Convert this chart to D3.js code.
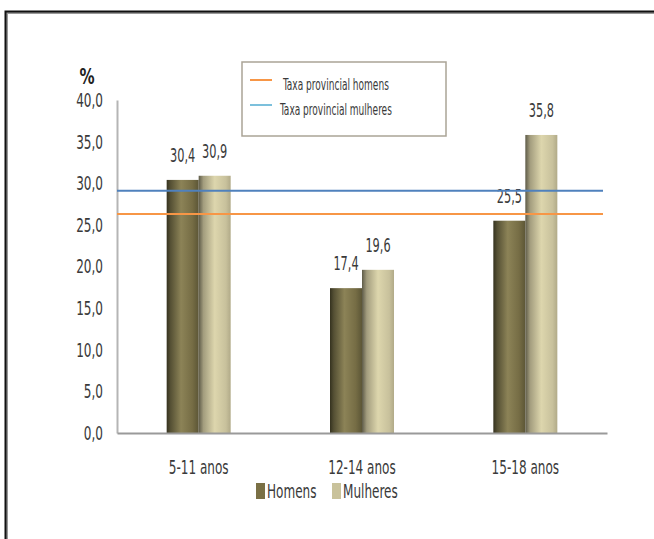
<!DOCTYPE html>
<html>
<head>
<meta charset="utf-8">
<script src="https://cdn.jsdelivr.net/npm/d3@7"></script>
<style>
  html, body { margin: 0; padding: 0; background: #fff; }
  svg { display: block; }
  text { font-family: "DejaVu Sans Condensed", "DejaVu Sans", sans-serif; font-stretch: condensed; fill: #3a3a3a; }
</style>
</head>
<body>
<svg id="chart" width="654" height="539"></svg>
<script>
// Taxa por grupo etário e sexo (%)
const categories = ["5-11 anos", "12-14 anos", "15-18 anos"];
const seriesNames = ["Homens", "Mulheres"];
const homens = [30.4, 17.4, 25.5];
const mulheres = [30.9, 19.6, 35.8];
const yTicks = [0, 5, 10, 15, 20, 25, 30, 35, 40];
const refNames = ["Taxa provincial homens", "Taxa provincial mulheres"];
const refValues = [26.3, 29.1];

const svg = d3.select("#chart");
const fmt = v => d3.format(".1f")(v).replace(".", ",");

// frame around the figure
svg.append("path")
  .attr("d", "M7,540 V13 H660")
  .attr("fill", "none").attr("stroke", "#999").attr("stroke-width", 2);
svg.append("path")
  .attr("d", "M5.5,540 V11.5 H660")
  .attr("fill", "none").attr("stroke", "#111").attr("stroke-width", 2);

const plot = { left: 117, right: 607, top: 100, bottom: 433 };

const x0 = d3.scaleBand().domain(categories).range([plot.left, plot.right]);
const x1 = d3.scaleBand().domain(seriesNames).range([0, 64]);
const y = d3.scaleLinear().domain([0, 40]).range([plot.bottom, plot.top]);

// gradients giving the cylinders their shading
const defs = svg.append("defs");
const grads = {
  Homens: [["0%", "#35321f"], ["12%", "#555034"], ["45%", "#8c8357"], ["80%", "#766d45"], ["100%", "#5c5636"]],
  Mulheres: [["0%", "#5e5b48"], ["15%", "#a39d7e"], ["50%", "#ddd6ad"], ["85%", "#c8c19c"], ["100%", "#b1aa88"]]
};
Object.entries(grads).forEach(([k, stops]) => {
  const g = defs.append("linearGradient").attr("id", "g-" + k)
    .attr("x1", "0%").attr("x2", "100%").attr("y1", "0%").attr("y2", "0%");
  stops.forEach(([o, c]) => g.append("stop").attr("offset", o).attr("stop-color", c));
});

// y axis
const yAxis = svg.append("g").attr("transform", `translate(${plot.left},0)`)
  .call(d3.axisLeft(y).tickValues(yTicks).tickFormat(fmt).tickSize(0).tickPadding(14));
yAxis.select(".domain").attr("stroke", "#b5b5b5").attr("stroke-width", 2);
yAxis.selectAll("text").attr("font-size", 20).attr("font-family", null).style("fill", "#3a3a3a");

svg.append("text").attr("class", "pct").attr("x", 87).attr("y", 84).attr("text-anchor", "middle")
  .attr("font-size", 21).attr("font-weight", "bold").style("fill", "#222").text("%");

// bars
const rows = categories.map((c, i) => ({ cat: c, vals: [homens[i], mulheres[i]] }));
const groups = svg.append("g").selectAll("g").data(rows).join("g")
  .attr("transform", d => `translate(${x0(d.cat) + x0.bandwidth() / 2 - 32},0)`);

groups.selectAll("rect").data(d => d.vals.map((v, j) => ({ s: seriesNames[j], v })))
  .join("rect")
  .attr("x", d => x1(d.s))
  .attr("y", d => y(d.v))
  .attr("width", x1.bandwidth())
  .attr("height", d => y(0) - y(d.v))
  .attr("fill", d => `url(#g-${d.s})`);

groups.selectAll("text.val").data(d => d.vals.map((v, j) => ({ s: seriesNames[j], v })))
  .join("text").attr("class", "val")
  .attr("x", d => x1(d.s) + x1.bandwidth() / 2)
  .attr("y", d => y(d.v) - 18)
  .attr("text-anchor", "middle").attr("font-size", 20)
  .text(d => fmt(d.v));

// x axis
const xAxis = svg.append("g").attr("transform", `translate(0,${plot.bottom})`)
  .call(d3.axisBottom(x0).tickSize(0).tickPadding(27));
xAxis.select(".domain").attr("stroke", "#9a9a9a").attr("stroke-width", 2);
xAxis.selectAll("text").attr("font-size", 20).attr("font-family", null).style("fill", "#3a3a3a");

// provincial reference lines
const refColors = ["#f79646", "#4f81bd"];
svg.append("g").selectAll("line").data(refValues).join("line")
  .attr("x1", plot.left).attr("x2", 603)
  .attr("y1", d => y(d)).attr("y2", d => y(d))
  .attr("stroke", (d, i) => refColors[i]).attr("stroke-width", 2);

// legend for the reference lines
const lg = svg.append("g");
lg.append("rect").attr("x", 242).attr("y", 62).attr("width", 204).attr("height", 74)
  .attr("fill", "#fff").attr("stroke", "#aaa496").attr("stroke-width", 1.5);
const legLineColors = ["#f79646", "#7cc0dc"];
refNames.forEach((n, i) => {
  const yy = 80 + i * 25;
  lg.append("line").attr("x1", 250).attr("x2", 272).attr("y1", yy).attr("y2", yy)
    .attr("stroke", legLineColors[i]).attr("stroke-width", 2);
  lg.append("text").attr("x", i === 0 ? 283 : 280).attr("y", yy + 10)
    .attr("font-size", 15).text(n);
});

// series legend
const sw = [["Homens", "#7a7045", 256], ["Mulheres", "#c9c29b", 332]];
sw.forEach(([n, c, xx]) => {
  svg.append("rect").attr("x", xx).attr("y", 483).attr("width", 9).attr("height", 16).attr("fill", c);
  svg.append("text").attr("x", xx + 11).attr("y", 498).attr("font-size", 20).text(n);
});

// narrow the lettering to a condensed face, squeezing each label about its own anchor
svg.selectAll("text").each(function () {
  const f = this.classList.contains("pct") ? 0.8 : this.classList.contains("val") ? 0.63 : 0.67;
  const ax = +this.getAttribute("x") || 0;
  this.setAttribute("transform", `translate(${ax},0) scale(${f},1) translate(${-ax},0)`);
});
</script>
</body>
</html>
